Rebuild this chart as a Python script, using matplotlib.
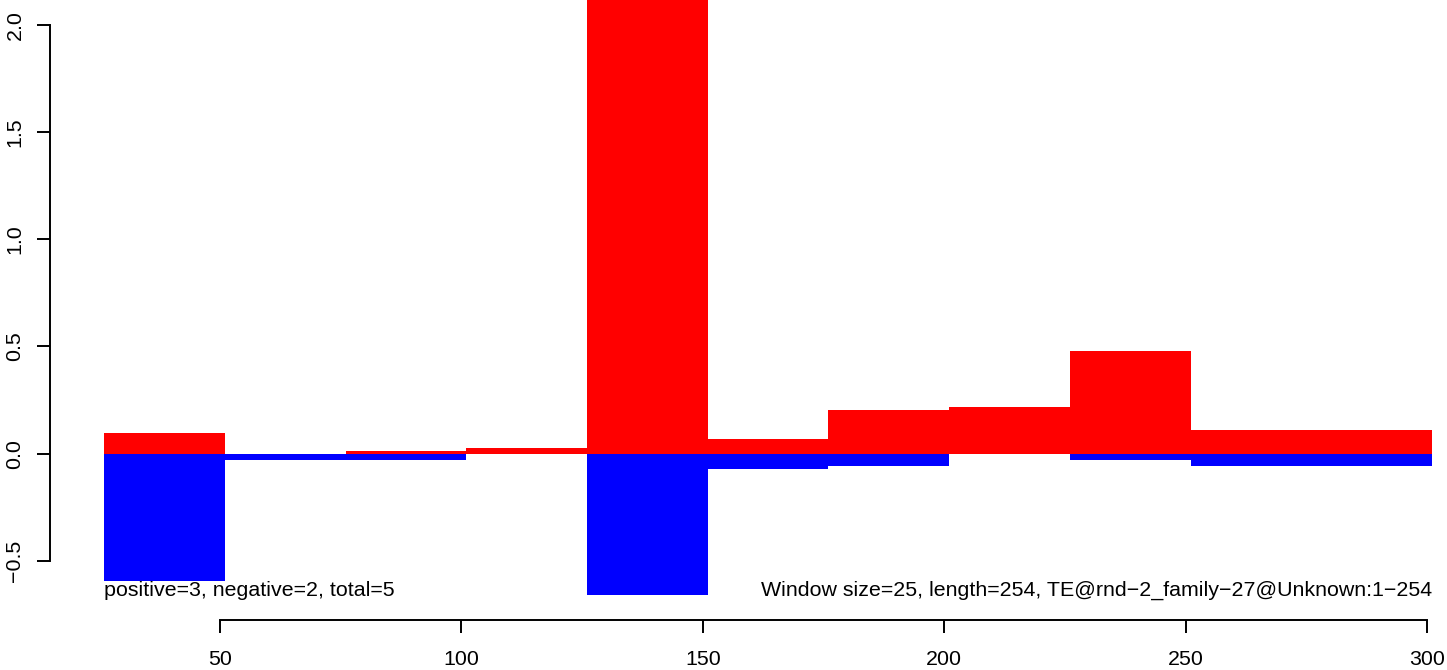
import matplotlib
matplotlib.use("Agg")
import matplotlib.pyplot as plt

# window start positions (window size 25)
window_starts = [26, 51, 76, 101, 126, 151, 176, 201, 226, 251, 276]
window_size = 25
# positive (red) and negative (blue) scores per window
pos_scores = [0.097, 0.0, 0.013, 0.025, 2.2, 0.069, 0.204, 0.218, 0.48, 0.11, 0.11]
neg_scores = [-0.593, -0.029, -0.029, 0.0, -0.659, -0.071, -0.057, 0.0, -0.029, -0.056, -0.056]

x_ticks = [50, 100, 150, 200, 250, 300]
y_ticks = [-0.5, 0.0, 0.5, 1.0, 1.5, 2.0]

left_text = "positive=3, negative=2, total=5"
right_text = "Window size=25, length=254, TE@rnd\u22122_family\u221227@Unknown:1\u2212254"

plt.rcParams['font.family'] = ['Liberation Sans', 'DejaVu Sans']
W, H = 1447, 670
fs = 15.4
fig = plt.figure(figsize=(W / 100, H / 100), dpi=100)
# plot region: left edge at px 50, bottom at px 620, runs to top/right of image
ax = fig.add_axes([50 / W, (H - 620) / H, (W - 50) / W, 620 / H])
ax.set_xlim(14.79, 304.1)
ax.set_ylim(-0.775, 2.115)

ax.bar(window_starts, pos_scores, width=window_size, align='edge', color='red', linewidth=0)
ax.bar(window_starts, neg_scores, width=window_size, align='edge', color='blue', linewidth=0)

for s in ['top', 'right']:
    ax.spines[s].set_visible(False)
ax.spines['left'].set_bounds(-0.5, 2.0)
ax.spines['bottom'].set_bounds(50, 300)
for s in ['left', 'bottom']:
    ax.spines[s].set_linewidth(1.4)

ax.set_xticks(x_ticks)
ax.set_xticklabels([str(t) for t in x_ticks])
ax.set_yticks(y_ticks)
ax.set_yticklabels([f"{t:.1f}".replace("-", "\u2212") for t in y_ticks], rotation=90, va='center')
ax.tick_params(axis='both', direction='out', length=9.4, width=1.4, labelsize=fs)
ax.tick_params(axis='x', pad=12)
ax.tick_params(axis='y', pad=9)

ax.text(window_starts[0], -0.663, left_text, ha='left', va='baseline', fontsize=fs)
ax.text(window_starts[-1] + window_size, -0.663, right_text, ha='right', va='baseline', fontsize=fs)

fig.savefig("out.png", dpi=100)
